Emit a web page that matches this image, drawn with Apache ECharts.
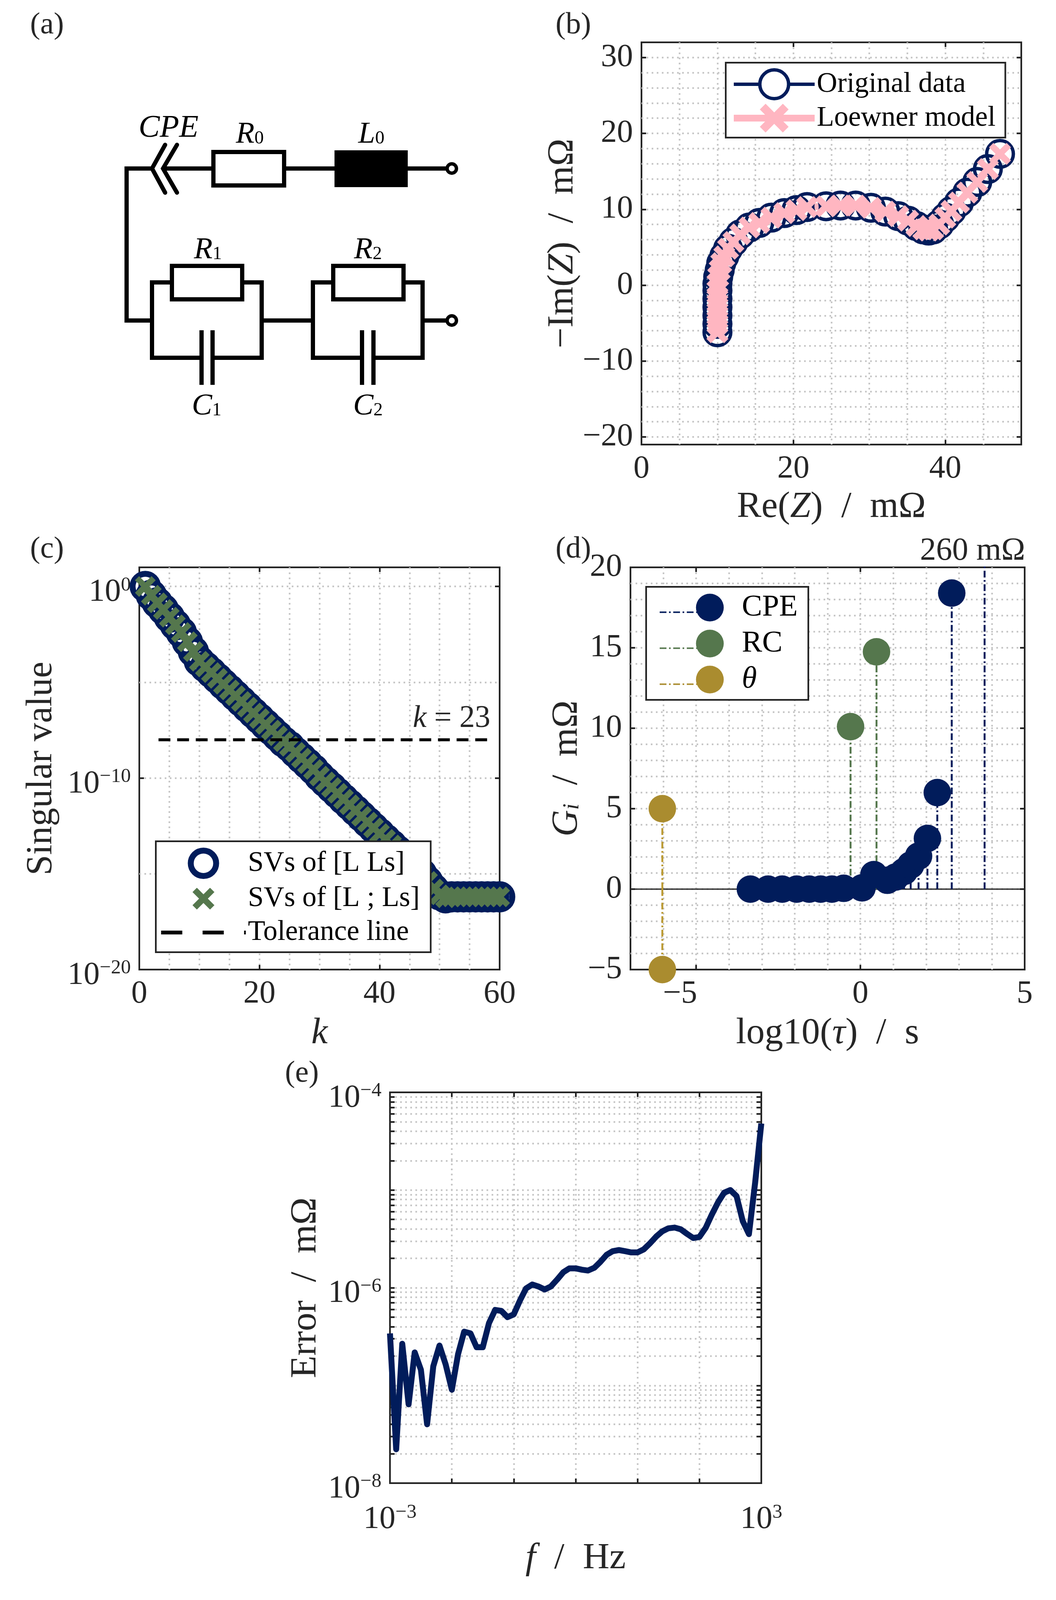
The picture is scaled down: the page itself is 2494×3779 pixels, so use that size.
<!DOCTYPE html>
<html>
<head>
<meta charset="utf-8">
<style>html,body{margin:0;padding:0;background:#fff}#main{width:2494px;height:3779px}</style>
<script src="https://cdn.jsdelivr.net/npm/echarts@6/dist/echarts.min.js"></script>
</head>
<body>
<div id="main"></div>
<script>
// panel (b) Nyquist
const reZ = [10.0,10.0,10.0,10.0,10.0,10.0,10.0,10.1,10.3,10.5,10.9,11.4,12.1,13.0,14.2,15.5,17.1,18.8,20.4,21.8,24.3,26.2,28.2,30.2,32.1,33.8,35.1,36.2,37.1,37.8,38.4,39.2,40.0,40.8,41.8,42.9,44.2,45.6,47.2];
const imZ = [-6.2,-5.1,-4.0,-2.9,-1.8,-0.7,0.2,1.1,2.0,2.9,3.8,4.8,5.7,6.7,7.6,8.2,8.9,9.5,9.9,10.3,10.4,10.5,10.5,10.2,9.7,9.1,8.5,7.8,7.35,7.2,7.35,8.0,8.9,9.8,10.9,12.2,13.6,15.3,17.3];
const reModel = [10.0,10.0,10.0,10.0,10.0,10.0,10.0,10.1,10.3,10.5,10.9,11.4,12.1,13.0,14.2,15.5,17.1,18.8,20.4,21.8,24.3,26.2,28.2,30.2,32.1,33.8,35.1,36.2,37.1,37.8,38.4,39.2,40.0,40.8,41.8,42.9,44.2,45.6,47.2];
const imModel = [-6.2,-5.1,-4.0,-2.9,-1.8,-0.7,0.2,1.1,2.0,2.9,3.8,4.8,5.7,6.7,7.6,8.2,8.9,9.5,9.9,10.3,10.4,10.5,10.5,10.2,9.7,9.1,8.5,7.8,7.35,7.2,7.35,8.0,8.9,9.8,10.9,12.2,13.6,15.3,17.3];

// panel (c) singular values, k = 1..60
const kIdx = [1,2,3,4,5,6,7,8,9,10,11,12,13,14,15,16,17,18,19,20,21,22,23,24,25,26,27,28,29,30,31,32,33,34,35,36,37,38,39,40,41,42,43,44,45,46,47,48,49,50,51,52,53,54,55,56,57,58,59,60];
const svLLs = [1,3.5e-1,1.4e-1,6.3e-2,2.5e-2,1e-2,4e-3,1.3e-3,4e-4,1.26e-4,6.3e-5,3.2e-5,1.6e-5,7.9e-6,4e-6,2e-6,1e-6,5e-7,2.5e-7,1.26e-7,6.3e-8,3.2e-8,1.6e-8,7.9e-9,4.5e-9,2.2e-9,1.1e-9,5.6e-10,2.8e-10,1.26e-10,6.3e-11,3.2e-11,1.6e-11,7.9e-12,4e-12,2e-12,1e-12,5e-13,2.5e-13,1.26e-13,6.3e-14,3.2e-14,1.6e-14,7.9e-15,4e-15,2e-15,1e-15,4e-16,1.6e-16,8e-17,5.6e-17,6.3e-17,6.3e-17,6.3e-17,6.3e-17,6.3e-17,6.3e-17,6.3e-17,6.3e-17,6.3e-17];
const svLcLs = [1,3.5e-1,1.4e-1,6.3e-2,2.5e-2,1e-2,4e-3,1.3e-3,4e-4,1.26e-4,6.3e-5,3.2e-5,1.6e-5,7.9e-6,4e-6,2e-6,1e-6,5e-7,2.5e-7,1.26e-7,6.3e-8,3.2e-8,1.6e-8,7.9e-9,4.5e-9,2.2e-9,1.1e-9,5.6e-10,2.8e-10,1.26e-10,6.3e-11,3.2e-11,1.6e-11,7.9e-12,4e-12,2e-12,1e-12,5e-13,2.5e-13,1.26e-13,6.3e-14,3.2e-14,1.6e-14,7.9e-15,4e-15,2e-15,1e-15,4e-16,1.6e-16,8e-17,5.6e-17,6.3e-17,6.3e-17,6.3e-17,6.3e-17,6.3e-17,6.3e-17,6.3e-17,6.3e-17,6.3e-17];
const tolK = [3.2,58.6];
const tolSv = [1e-8,1e-8];

// panel (d) distribution
const cpeTau = [-3.35,-2.81,-2.38,-1.94,-1.56,-1.21,-0.87,-0.51,0.05,0.41,0.82,1.07,1.33,1.53,1.77,2.04,2.34,2.78,3.78];
const cpeG = [0,0,0,0,0,0,0,0.05,0.08,0.9,0.55,0.75,1.1,1.5,2.05,3.15,6.0,18.4,260];
const rcTau = [-0.30,0.49];
const rcG = [10.1,14.75];
const thetaTau = [-6.03,-6.03];
const thetaG = [5,-5];
const zeroTau = [-7,5];
const zeroG = [0,0];

// panel (e) error
const freq = [0.001,0.00126,0.00158,0.002,0.00251,0.00316,0.00398,0.00501,0.00631,0.00794,0.01,0.0126,0.0158,0.02,0.0251,0.0316,0.0398,0.0501,0.0631,0.0794,0.1,0.126,0.158,0.2,0.251,0.316,0.398,0.501,0.631,0.794,1,1.26,1.58,2,2.51,3.16,3.98,5.01,6.31,7.94,10,12.6,15.8,20,25.1,31.6,39.8,50.1,63.1,79.4,100,126,158,200,251,316,398,501,631,794,1000];
const errZ = [3.41e-7,2.22e-8,2.67e-7,6.41e-8,2.18e-7,1.45e-7,4e-8,1.57e-7,2.56e-7,1.64e-7,9.04e-8,2.09e-7,3.55e-7,3.41e-7,2.46e-7,2.46e-7,4.35e-7,5.93e-7,5.79e-7,5e-7,5.34e-7,7.4e-7,9.84e-7,1.08e-6,1.03e-6,9.6e-7,1.03e-6,1.21e-6,1.44e-6,1.58e-6,1.58e-6,1.53e-6,1.5e-6,1.6e-6,1.84e-6,2.17e-6,2.37e-6,2.43e-6,2.37e-6,2.3e-6,2.3e-6,2.47e-6,2.84e-6,3.34e-6,3.78e-6,4.06e-6,4.13e-6,3.96e-6,3.56e-6,3.23e-6,3.31e-6,4.09e-6,5.58e-6,7.49e-6,9.4e-6,1e-5,8.67e-6,4.82e-6,3.54e-6,1.18e-5,4.8e-5];

// tick lists
const bXMajor = [0,20,40];
const bXGrid = [5,10,15,20,25,30,35,40,45];
const bYMajor = [-20,-10,0,10,20,30];
const bYGrid = [-20,-18,-16,-14,-12,-10,-8,-6,-4,-2,0,2,4,6,8,10,12,14,16,18,20,22,24,26,28,30];
const cXMajor = [0,20,40,60];
const cXGrid = [5,10,15,20,25,30,35,40,45,50,55];
const cYMajor = [1e-20,1e-10,1];
const cYGrid = [1e-15,1e-10,1e-5,1];
const dXMajor = [-5,0,5];
const dXGrid = [-6,-5,-4,-3,-2,-1,0,1,2,3,4];
const dYMajor = [-5,0,5,10,15,20];
const dYGrid = [-4,-3,-2,-1,0,1,2,3,4,5,6,7,8,9,10,11,12,13,14,15,16,17,18,19];
const eXMajor = [1e-3,1e3];
const eXGrid = [1e-2,1e-1,1,10,100];
const eYMajor = [1e-8,1e-6,1e-4];
const eYGrid = [2e-8,3e-8,4e-8,5e-8,6e-8,7e-8,8e-8,9e-8,1e-7,2e-7,3e-7,4e-7,5e-7,6e-7,7e-7,8e-7,9e-7,1e-6,2e-6,3e-6,4e-6,5e-6,6e-6,7e-6,8e-6,9e-6,1e-5,2e-5,3e-5,4e-5,5e-5,6e-5,7e-5,8e-5,9e-5];

const navy = '#011c5b', green = '#55774d', gold = '#aa8c2f', pink = '#ffb6c1', dark = '#262626';
const serif = '"Liberation Serif","Times New Roman",serif';
const xMark = 'path://M0,20 L20,0 L50,30 L80,0 L100,20 L70,50 L100,80 L80,100 L50,70 L20,100 L0,80 L30,50 Z';
// same cross with empty margin so the legend icon keeps the marker size
const xMarkLegend = 'path://M-8,-8 L-8,-8 Z M108,108 L108,108 Z M0,20 L20,0 L50,30 L80,0 L100,20 L70,50 L100,80 L80,100 L50,70 L20,100 L0,80 L30,50 Z';

const tickFont = 76, nameFont = 87;

const nameRich = {
    i: {fontFamily: serif, fontSize: nameFont, fontStyle: 'italic', color: dark},
    n: {fontFamily: serif, fontSize: nameFont, color: dark},
    sub: {fontFamily: serif, fontSize: 54, fontStyle: 'italic', color: dark, padding: [24, 0, 0, 0]}
};
const labelRich = {
    b: {fontFamily: serif, fontSize: tickFont, color: dark},
    s: {fontFamily: serif, fontSize: 47, color: dark, padding: [0, 0, 34, 0]},
    l: {fontFamily: serif, fontSize: tickFont, color: dark, padding: [0, 76, 0, 0]}
};

function plainLabel(v) {
    return String(v).replace('-', '\u2212');
}
function powLabel(v) {
    return '{b|10}{s|' + String(Math.round(Math.log10(v))).replace('-', '\u2212') + '}';
}

// one visible axis (labels + ticks), the mirrored ticks and a hidden axis that carries the dotted grid
function axes(dim, grid, cfg) {
    const pos = dim === 'x' ? ['bottom', 'top'] : ['left', 'right'];
    const base = {gridIndex: grid, type: cfg.type || 'value', min: cfg.min, max: cfg.max, axisLine: {show: false, onZero: false}};
    if (cfg.type === 'log') base.logBase = 10;
    const ticks = {show: true, inside: true, length: 11, lineStyle: {color: dark, width: 4}, customValues: cfg.ticks || cfg.major};
    return [
        Object.assign({}, base, {
            position: pos[0], axisTick: ticks, splitLine: {show: false},
            axisLabel: {customValues: cfg.major, formatter: cfg.fmt || plainLabel, margin: cfg.margin || 20, padding: cfg.pad || 0, fontFamily: serif, fontSize: tickFont, color: dark, rich: labelRich, hideOverlap: false, showMinLabel: true, showMaxLabel: true},
            name: cfg.name, nameLocation: 'middle', nameGap: cfg.gap,
            nameTextStyle: {fontFamily: serif, fontSize: nameFont, color: dark, rich: nameRich}
        }),
        Object.assign({}, base, {position: pos[1], axisTick: ticks, axisLabel: {show: false}, splitLine: {show: false}}),
        Object.assign({}, base, {
            position: pos[0], axisTick: {show: false, customValues: cfg.grid}, axisLabel: {show: false},
            splitLine: {show: true, lineStyle: {color: '#c8c8c8', width: 4, type: [4, 8]}}
        })
    ];
}

const xAxes = [].concat(
    axes('x', 0, {min: 0, max: 50, major: bXMajor, grid: bXGrid, gap: 105, name: '{n|Re(}{i|Z}{n|)  /  m\u03a9}'}),
    axes('x', 1, {min: 0, max: 60, major: cXMajor, grid: cXGrid, gap: 108, name: '{i|k}'}),
    axes('x', 2, {min: -7, max: 5, major: dXMajor, grid: dXGrid, gap: 108, name: '{n|log10(}{i|\u03c4}{n|)  /  s}',
        fmt: v => v === -5 ? '{l|\u22125}' : String(v)}),
    axes('x', 3, {type: 'log', min: 1e-3, max: 1e3, major: eXMajor, ticks: eXMajor.concat(eXGrid), grid: eXGrid, gap: 135, margin: 46, name: '{i|f}{n|  /  Hz}', fmt: powLabel})
);
const yAxes = [].concat(
    axes('y', 0, {min: -21, max: 32, major: bYMajor, grid: bYGrid, gap: 121, name: '{n|\u2212Im(}{i|Z}{n|)  /  m\u03a9}'}),
    axes('y', 1, {type: 'log', min: 1e-20, max: 10, major: cYMajor, grid: cYGrid, gap: 187, pad: [28, 0, 0, 0], name: '{n|Singular value}', fmt: powLabel}),
    axes('y', 2, {min: -5, max: 20, major: dYMajor, grid: dYGrid, gap: 106, name: '{i|G}{sub|i}{n|  /  m\u03a9}'}),
    axes('y', 3, {type: 'log', min: 1e-8, max: 1e-4, major: eYMajor, ticks: eYMajor.concat(eYGrid), grid: eYGrid, gap: 155, pad: [28, 0, 0, 0], name: '{n|Error  /  m\u03a9}', fmt: powLabel})
);

const zip = (a, b) => a.map((v, i) => [v, b[i]]);
// stems: base point, value point, gap
function stems(xs, ys) {
    const out = [];
    xs.forEach((x, i) => {
        out.push({value: [x, 0], symbolSize: 0});
        out.push({value: [x, ys[i]]});
        out.push({value: [null, null], symbolSize: 0});
    });
    return out;
}
function axisIdx(g) {
    return {xAxisIndex: g * 3, yAxisIndex: g * 3};
}
function stemSeries(name, xs, ys, color) {
    return Object.assign({
        name, type: 'line', data: stems(xs, ys), symbol: 'circle', symbolSize: 65, showSymbol: true,
        connectNulls: false, clip: true, animation: false,
        itemStyle: {color}, lineStyle: {color, width: 4.5, type: [16, 6, 4, 6]}
    }, axisIdx(2));
}

const series = [
    Object.assign({
        name: 'Original data', type: 'line', data: zip(reZ, imZ), symbol: 'circle', symbolSize: 63, showAllSymbol: true, animation: false,
        itemStyle: {color: 'transparent', borderColor: navy, borderWidth: 8}, lineStyle: {color: navy, width: 8}
    }, axisIdx(0)),
    Object.assign({
        name: 'Loewner model', type: 'line', data: zip(reModel, imModel), symbol: xMark, symbolSize: 52, showAllSymbol: true, animation: false,
        itemStyle: {color: pink}, lineStyle: {color: pink, width: 16}
    }, axisIdx(0)),
    Object.assign({
        name: 'SVs of [L Ls]', type: 'scatter', data: zip(kIdx, svLLs), symbol: 'circle', symbolSize: 60, clip: false, animation: false,
        itemStyle: {color: 'transparent', borderColor: navy, borderWidth: 14, opacity: 1}
    }, axisIdx(1)),
    Object.assign({
        name: 'SVs of [L ; Ls]', type: 'scatter', data: zip(kIdx, svLcLs), symbol: xMark, symbolSize: 49, clip: false, animation: false,
        itemStyle: {color: green, opacity: 1}
    }, axisIdx(1)),
    Object.assign({
        name: 'Tolerance line', type: 'line', data: zip(tolK, tolSv), symbol: 'none', animation: false,
        lineStyle: {color: '#000', width: 7, type: [28, 16]}
    }, axisIdx(1)),
    Object.assign({
        name: 'zero', type: 'line', data: zip(zeroTau, zeroG), symbol: 'none', animation: false,
        lineStyle: {color: dark, width: 3}
    }, axisIdx(2)),
    stemSeries('CPE', cpeTau, cpeG, navy),
    stemSeries('RC', rcTau, rcG, green),
    stemSeries('\u03b8', thetaTau, thetaG, gold),
    Object.assign({
        name: 'Error', type: 'line', data: zip(freq, errZ), symbol: 'none', animation: false,
        lineStyle: {color: navy, width: 14, join: 'round'}
    }, axisIdx(3))
];

const legends = [
    {
        left: 1714, top: 148, orient: 'vertical', padding: [13, 23, 12, 11], itemWidth: 191, itemHeight: 85, itemGap: 8,
        backgroundColor: '#fff', borderColor: dark, borderWidth: 4, align: 'left',
        textStyle: {fontFamily: serif, fontSize: 67, color: '#000'},
        data: [
            {name: 'Original data', itemStyle: {color: '#fff', borderWidth: 8}, lineStyle: {width: 8}},
            {name: 'Loewner model', lineStyle: {width: 16}}
        ]
    },
    {
        left: 368, top: 1987, orient: 'vertical', padding: [15, 26, 13, 8], itemWidth: 200, itemHeight: 60, itemGap: 13,
        backgroundColor: '#fff', borderColor: dark, borderWidth: 4, align: 'left',
        textStyle: {fontFamily: serif, fontSize: 67, color: '#000'},
        data: [
            {name: 'SVs of [L Ls]', itemStyle: {borderWidth: 14}},
            {name: 'SVs of [L ; Ls]', icon: xMarkLegend},
            {name: 'Tolerance line', itemStyle: {color: 'transparent'}, lineStyle: {type: [50, 48], width: 9}}
        ]
    },
    {
        left: 1526, top: 1386, orient: 'vertical', padding: [13, 25, 12, 80], itemWidth: 141, itemHeight: 82, itemGap: 13,
        backgroundColor: '#fff', borderColor: dark, borderWidth: 4, align: 'left',
        textStyle: {fontFamily: serif, fontSize: 72, color: '#000', rich: {i: {fontFamily: serif, fontSize: 72, fontStyle: 'italic'}}},
        formatter: n => n === '\u03b8' ? '{i|\u03b8}' : n,
        data: [{name: 'CPE', lineStyle: {width: 0}}, {name: 'RC', lineStyle: {width: 0}}, {name: '\u03b8', lineStyle: {width: 0}}]
    }
];

// circuit of panel (a) and free text
const wire = (x1, y1, x2, y2) => ({type: 'line', shape: {x1, y1, x2, y2}, style: {stroke: '#000', lineWidth: 10, fill: null}});
const chevron = (x, xe) => ({type: 'polyline', shape: {points: [[xe, 342], [x, 398], [xe, 455]]}, style: {stroke: '#000', lineWidth: 10, fill: null, lineCap: 'round'}});
const box = (x, y, width, height, fill) => ({type: 'rect', z: 2, shape: {x, y, width, height}, style: {stroke: '#000', lineWidth: 10, fill}});
const node = (cx, cy) => ({type: 'circle', z: 2, shape: {cx, cy, r: 11}, style: {stroke: '#000', lineWidth: 8, fill: '#fff'}});
const txt = (text, x, y, size, extra) => ({type: 'text', z: 20, x, y, style: Object.assign({text, fontFamily: serif, fontSize: size, fill: dark, align: 'center', verticalAlign: 'middle'}, extra || {})});
const symbolText = (main, sub, x, y) => ({type: 'text', z: 20, x, y, style: {
    text: '{m|' + main + '}{u|' + sub + '}', align: 'center', verticalAlign: 'middle', fill: '#000',
    rich: {m: {fontFamily: serif, fontSize: 72, fontStyle: 'italic', fill: '#000'}, u: {fontFamily: serif, fontSize: 44, fill: '#000', padding: [18, 0, 0, 0]}}
}});
const legendStem = (y, color) => ({type: 'line', z: 10, shape: {x1: 1558, y1: y, x2: 1660, y2: y}, style: {stroke: color, lineWidth: 3.5, lineDash: [16, 6, 4, 6]}});

const graphics = [
    wire(299, 398, 299, 757), wire(294, 398, 360, 398), wire(385, 398, 504, 398), wire(671, 398, 795, 398), wire(958, 398, 1056, 398),
    chevron(359, 390), chevron(385, 418),
    box(504, 359, 167, 79, '#fff'), box(795, 360, 163, 77, '#000'), node(1067, 398),
    wire(294, 757, 359, 757),
    box(359, 667, 259, 178, 'none'), box(406, 628, 166, 79, '#fff'),
    {type: 'rect', z: 3, shape: {x: 476, y: 835, width: 26, height: 20}, style: {fill: '#fff'}},
    {type: 'line', z: 4, shape: {x1: 476, y1: 780, x2: 476, y2: 909}, style: {stroke: '#000', lineWidth: 10}},
    {type: 'line', z: 4, shape: {x1: 502, y1: 780, x2: 502, y2: 909}, style: {stroke: '#000', lineWidth: 10}},
    wire(618, 757, 739, 757),
    box(739, 667, 259, 178, 'none'), box(787, 628, 166, 79, '#fff'),
    {type: 'rect', z: 3, shape: {x: 855, y: 835, width: 27, height: 20}, style: {fill: '#fff'}},
    {type: 'line', z: 4, shape: {x1: 855, y1: 780, x2: 855, y2: 909}, style: {stroke: '#000', lineWidth: 10}},
    {type: 'line', z: 4, shape: {x1: 882, y1: 780, x2: 882, y2: 909}, style: {stroke: '#000', lineWidth: 10}},
    wire(998, 757, 1056, 757), node(1067, 757),
    txt('CPE', 398, 303, 75, {fontStyle: 'italic', fill: '#000'}),
    symbolText('R', '0', 590, 318), symbolText('L', '0', 877, 318),
    symbolText('R', '1', 491, 591), symbolText('R', '2', 869, 591),
    symbolText('C', '1', 488, 960), symbolText('C', '2', 869, 960),
    txt('(a)', 111, 60, 72), txt('(b)', 1354, 60, 72), txt('(c)', 111, 1298, 72), txt('(d)', 1354, 1298, 72), txt('(e)', 713, 2536, 72),
    {type: 'text', z: 20, x: 1158, y: 1698, style: {text: '{i|k}{n| = 23}', align: 'right', verticalAlign: 'middle',
        rich: {i: {fontFamily: serif, fontSize: 73, fontStyle: 'italic', fill: dark}, n: {fontFamily: serif, fontSize: 73, fill: dark}}}},
    txt('260 m\u03a9', 2297, 1302, 76),
    legendStem(1446, navy), legendStem(1531, green), legendStem(1616, gold)
];

const chart = echarts.init(document.getElementById('main'), null, {renderer: 'canvas'});
chart.setOption({
    animation: false,
    backgroundColor: '#fff',
    grid: [
        {left: 1515, top: 100, width: 897, height: 950, show: true, borderColor: dark, borderWidth: 4},
        {left: 329, top: 1340, width: 851, height: 950, show: true, borderColor: dark, borderWidth: 4},
        {left: 1489, top: 1340, width: 931, height: 950, show: true, borderColor: dark, borderWidth: 4},
        {left: 921, top: 2580, width: 877, height: 923, show: true, borderColor: dark, borderWidth: 4}
    ],
    xAxis: xAxes,
    yAxis: yAxes,
    legend: legends,
    graphic: graphics,
    series: series
});
</script>
</body>
</html>
